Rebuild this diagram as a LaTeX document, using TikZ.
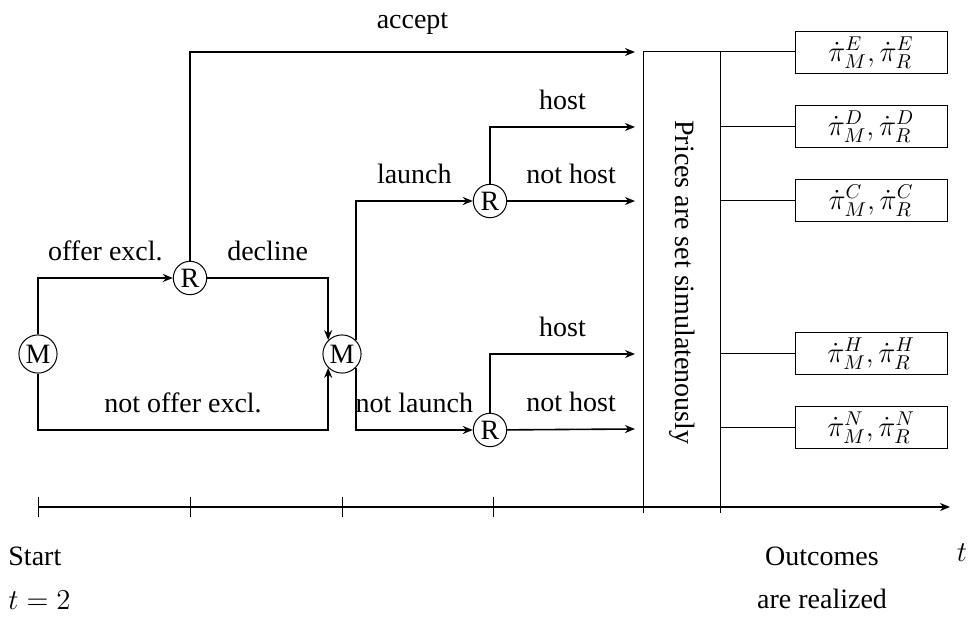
\documentclass[tikz,border=0pt]{standalone}
\usepackage{amsmath}
\usepackage{fontspec}
\setmainfont{Liberation Serif}
\usepackage{tikz}
\usetikzlibrary{arrows.meta}

\begin{document}
\begin{tikzpicture}[x=0.5pt,y=-0.5pt,>={Stealth[length=5pt,width=4pt]},
font=\fontsize{14}{17}\selectfont,
dec/.style={circle,draw,line width=0.5pt,inner sep=1.3pt},
lab/.style={above=5pt},
outbox/.style={draw,line width=0.5pt,minimum width=76pt,minimum height=21pt,inner sep=0pt},
arr/.style={->,line width=0.8pt}]
\useasboundingbox (0,0) rectangle (968,619);
% decision nodes
\node[dec](m1) at (38,354) {M};
\node[dec](r1) at (190,278) {R};
\node[dec](m2) at (342,354) {M};
\node[dec](r2) at (490,201) {R};
\node[dec](r3) at (490,430) {R};
\coordinate (low) at (38,430);
\coordinate (accE) at (635,52);
\coordinate (hostD) at (635,127);
\coordinate (nhostC) at (635,201);
\coordinate (hostH) at (635,354);
\coordinate (nhostN) at (635,429);
% branches
\draw[arr](m1)|-(r1)node[lab,pos=0.75]{offer excl.};
\draw[arr](r1)|-(accE)node[lab,pos=0.75]{accept};
\draw[arr](r1)-|(m2.north west)node[lab,pos=0.25]{decline};
\draw[arr](m1)--(low)-|(m2.south west)node[lab,pos=0.25]{not offer excl.};
\draw[arr](m2.north east)|-(r2)node[lab,pos=0.75]{launch};
\draw[arr](m2.south east)|-(r3)node[lab,pos=0.75]{not launch};
\draw[arr](r2)|-(hostD)node[lab,pos=0.75]{host};
\draw[arr](r2)--(nhostC)node[lab,midway]{not host};
\draw[arr](r3)|-(hostH)node[lab,pos=0.75]{host};
\draw[arr](r3)--(nhostN)node[lab,midway]{not host};
% price stage
\node[minimum width=38pt,minimum height=230.5pt,inner sep=0pt](prices) at (682,282.5)
{\rotatebox{-90}{Prices are set simulatenously}};
\draw[line width=0.5pt](prices.south west)|-(prices.north east)--(prices.south east);
% outcomes
\node[outbox](oE) at (871,53) {$\dot{\pi}^E_M,\dot{\pi}^E_R$};
\node[outbox](oD) at (871,127) {$\dot{\pi}^D_M,\dot{\pi}^D_R$};
\node[outbox](oC) at (871,201) {$\dot{\pi}^C_M,\dot{\pi}^C_R$};
\node[outbox](oH) at (871,354) {$\dot{\pi}^H_M,\dot{\pi}^H_R$};
\node[outbox](oN) at (871,428) {$\dot{\pi}^N_M,\dot{\pi}^N_R$};
\draw[line width=0.5pt](prices.north east)--(prices.north east-|oE.west);
\foreach \o in {oD,oC,oH,oN}
\draw[line width=0.5pt](prices.east|-\o.west)--(\o.west);
% time line
\coordinate (t0) at (38,507);
\coordinate (t1) at (950,507);
\draw[->,line width=1pt](t0)--(t1);
\foreach \x in {38,190,342,493}
\draw[line width=0.4pt](\x,497)--(\x,517);
\node(tlab) at (962,553) {$t$};
\node[anchor=west,inner sep=0pt](start) at (8,556) {Start};
\node[anchor=west,inner sep=0pt](tstart) at (8,600) {$t=2$};
\node(outc) at (822,556) {Outcomes};
\node(real) at (822,599) {are realized};
\end{tikzpicture}
\end{document}
